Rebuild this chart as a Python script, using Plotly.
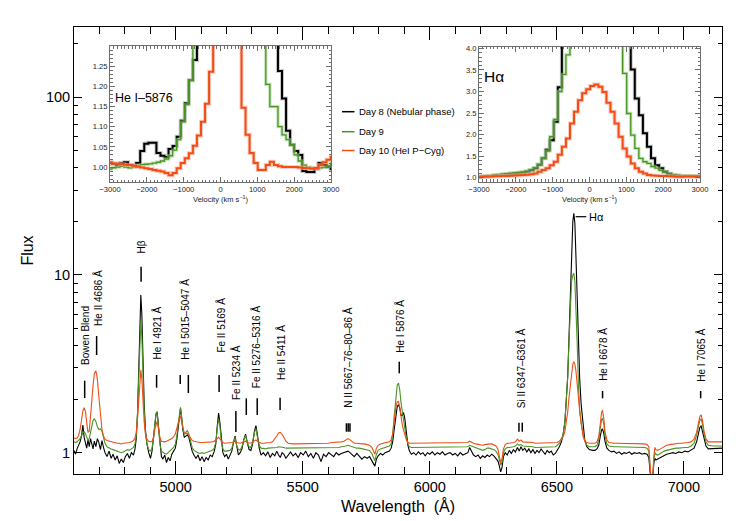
import plotly.graph_objects as go

# ---------------- main spectrum (wavelength in Angstrom, normalised flux) ----------------
wave = [4600, 4606, 4612, 4618, 4624, 4630, 4635, 4640, 4645, 4650, 4655, 4660, 4665, 4670, 4675, 4680, 4686, 4692, 4698, 4704, 4710, 4716, 4722, 4730,
        4738, 4746, 4754, 4762, 4770, 4778, 4786, 4794, 4802, 4810, 4818, 4826, 4834, 4840, 4845, 4850, 4855, 4859, 4863, 4867, 4871, 4876, 4881, 4887, 4894, 4901,
        4907, 4913, 4918, 4923, 4927, 4932, 4938, 4944, 4950, 4957, 4964, 4971, 4978, 4985, 4992, 4999, 5005, 5010, 5015, 5019, 5023, 5028, 5034, 5040, 5046, 5052,
        5058, 5065, 5072, 5080, 5088, 5096, 5104, 5112, 5120, 5128, 5136, 5144, 5152, 5158, 5164, 5169, 5174, 5180, 5186, 5193, 5200, 5207, 5214, 5221, 5228, 5234,
        5240, 5247, 5254, 5261, 5268, 5275, 5282, 5289, 5296, 5303, 5310, 5316, 5322, 5329, 5336, 5345, 5354, 5363, 5372, 5381, 5390, 5398, 5405, 5412, 5419, 5426,
        5434, 5443, 5452, 5462, 5472, 5482, 5492, 5502, 5512, 5522, 5532, 5542, 5552, 5562, 5572, 5582, 5592, 5602, 5612, 5622, 5632, 5642, 5652, 5662, 5670, 5678,
        5686, 5694, 5703, 5713, 5723, 5733, 5743, 5753, 5763, 5772, 5779, 5784, 5790, 5797, 5806, 5815, 5824, 5833, 5841, 5848, 5854, 5860, 5866, 5872, 5877, 5882,
        5887, 5892, 5897, 5902, 5908, 5914, 5920, 5928, 5937, 5946, 5955, 5964, 5973, 5982, 5991, 6000, 6010, 6020, 6030, 6040, 6050, 6060, 6070, 6080, 6090, 6100,
        6110, 6120, 6130, 6140, 6150, 6157, 6164, 6172, 6181, 6190, 6199, 6208, 6217, 6226, 6235, 6244, 6252, 6260, 6268, 6274, 6279, 6284, 6290, 6297, 6305, 6313,
        6321, 6329, 6337, 6345, 6352, 6359, 6366, 6374, 6382, 6390, 6398, 6406, 6414, 6422, 6430, 6438, 6446, 6454, 6462, 6470, 6478, 6486, 6494, 6502, 6510, 6518,
        6525, 6532, 6538, 6543, 6548, 6553, 6558, 6563, 6567, 6571, 6575, 6580, 6585, 6590, 6596, 6603, 6610, 6618, 6628, 6640, 6650, 6658, 6665, 6671, 6676, 6680,
        6685, 6690, 6697, 6705, 6715, 6725, 6735, 6745, 6755, 6765, 6775, 6785, 6795, 6805, 6815, 6825, 6835, 6845, 6855, 6862, 6866, 6870, 6874, 6878, 6882, 6886,
        6890, 6896, 6903, 6912, 6922, 6932, 6944, 6956, 6968, 6980, 6992, 7004, 7016, 7028, 7040, 7050, 7057, 7063, 7068, 7073, 7079, 7087, 7096, 7106, 7116, 7126,
        7136, 7150]

flux_day8 = [1.03, 0.98, 1.05, 1.10, 1.15, 1.25, 1.43, 1.22, 1.15, 1.06, 1.18, 1.08, 1.20, 1.12, 1.05, 1.16, 1.08, 1.20, 1.14, 1.04, 1.17, 1.07, 1.00, 0.95,
             1.02, 0.93, 0.98, 0.91, 0.96, 0.87, 0.92, 0.88, 0.95, 0.99, 0.93, 1.00, 0.97, 1.05, 1.20, 1.65, 3.30, 5.60, 7.70, 6.00, 3.40, 1.90, 1.35, 1.12, 1.00, 0.93,
             1.02, 1.20, 1.45, 1.65, 1.70, 1.40, 1.08, 0.95, 0.92, 0.97, 0.88, 0.94, 0.90, 0.98, 1.02, 1.06, 1.20, 1.40, 1.65, 1.78, 1.60, 1.35, 1.22, 1.24, 1.26, 1.22,
             1.12, 1.02, 0.97, 0.93, 0.97, 0.90, 0.95, 0.89, 0.94, 0.91, 0.97, 0.95, 1.02, 1.12, 1.42, 1.67, 1.48, 1.15, 1.00, 0.95, 0.98, 0.92, 0.96, 1.02, 1.15, 1.24,
             1.10, 0.97, 1.00, 1.05, 1.18, 1.27, 1.14, 1.04, 1.03, 1.12, 1.32, 1.42, 1.25, 1.06, 0.97, 1.00, 0.96, 1.01, 0.94, 0.99, 0.96, 1.02, 0.97, 0.94, 1.00, 0.98,
             0.93, 0.97, 1.01, 0.96, 0.99, 0.94, 1.00, 0.97, 1.02, 0.95, 0.99, 0.93, 1.00, 0.97, 0.89, 0.98, 0.95, 1.00, 0.98, 0.95, 1.00, 0.97, 0.99, 1.00, 1.01, 1.02,
             1.00, 0.97, 0.95, 0.99, 0.96, 0.92, 0.95, 0.93, 0.95, 0.90, 0.85, 0.84, 0.92, 0.96, 0.99, 0.97, 1.00, 1.01, 1.02, 1.06, 1.15, 1.35, 1.62, 1.82, 1.86, 1.78,
             1.62, 1.62, 1.68, 1.55, 1.30, 1.10, 1.02, 0.98, 1.00, 0.97, 1.01, 0.98, 1.00, 0.96, 1.00, 0.98, 1.01, 0.97, 1.00, 0.98, 1.01, 0.97, 0.99, 1.00, 0.97, 0.99,
             0.96, 1.00, 0.97, 0.99, 1.00, 1.07, 1.03, 0.97, 0.95, 0.97, 0.93, 0.96, 0.94, 0.97, 0.95, 0.98, 0.96, 0.93, 0.90, 0.84, 0.78, 0.82, 0.95, 1.00, 0.97, 1.03,
             0.99, 1.04, 1.01, 1.07, 1.02, 1.08, 1.03, 1.06, 1.01, 1.05, 1.00, 1.04, 0.99, 1.03, 1.00, 1.05, 1.01, 0.98, 1.03, 1.00, 1.02, 0.97, 0.99, 1.03, 1.08, 1.15,
             1.27, 1.50, 1.95, 2.70, 4.50, 8.00, 14.0, 20.0, 22.2, 19.5, 13.0, 7.00, 4.00, 2.60, 1.85, 1.40, 1.18, 1.08, 1.04, 1.03, 1.03, 1.05, 1.10, 1.24, 1.34, 1.36,
             1.28, 1.15, 1.06, 1.03, 1.01, 1.02, 0.99, 1.01, 0.98, 1.00, 0.99, 1.01, 0.98, 1.00, 0.99, 1.00, 0.98, 0.99, 0.98, 0.94, 0.80, 0.70, 0.72, 0.74, 0.88, 0.93,
             0.91, 0.92, 0.93, 0.95, 0.96, 0.98, 0.99, 1.00, 0.99, 1.01, 1.00, 1.02, 1.01, 1.03, 1.06, 1.15, 1.28, 1.39, 1.41, 1.33, 1.20, 1.09, 1.05, 1.05, 1.06, 1.05,
             1.06, 1.06]

flux_day9 = [1.15, 1.14, 1.15, 1.17, 1.20, 1.25, 1.30, 1.31, 1.28, 1.22, 1.18, 1.20, 1.30, 1.42, 1.52, 1.55, 1.50, 1.40, 1.35, 1.36, 1.32, 1.22, 1.13, 1.08,
             1.06, 1.05, 1.04, 1.03, 1.02, 1.00, 1.00, 1.01, 1.02, 1.04, 1.03, 1.05, 1.07, 1.12, 1.25, 1.70, 2.90, 4.40, 5.46, 4.50, 2.80, 1.75, 1.30, 1.12, 1.04, 1.02,
             1.06, 1.20, 1.45, 1.66, 1.70, 1.42, 1.12, 1.02, 1.00, 0.99, 0.98, 1.00, 1.02, 1.04, 1.07, 1.12, 1.25, 1.45, 1.70, 1.80, 1.62, 1.38, 1.27, 1.30, 1.33, 1.27,
             1.15, 1.07, 1.03, 1.01, 1.00, 0.99, 1.00, 0.99, 1.00, 1.01, 1.02, 1.03, 1.06, 1.15, 1.38, 1.55, 1.42, 1.15, 1.05, 1.02, 1.02, 1.02, 1.03, 1.06, 1.15, 1.22,
             1.10, 1.04, 1.04, 1.08, 1.18, 1.25, 1.14, 1.08, 1.07, 1.14, 1.30, 1.37, 1.22, 1.10, 1.06, 1.05, 1.05, 1.06, 1.06, 1.06, 1.07, 1.07, 1.08, 1.08, 1.08, 1.07,
             1.06, 1.06, 1.06, 1.06, 1.06, 1.06, 1.06, 1.06, 1.06, 1.06, 1.06, 1.06, 1.07, 1.07, 1.07, 1.07, 1.07, 1.07, 1.07, 1.07, 1.07, 1.07, 1.08, 1.08, 1.09, 1.10,
             1.09, 1.08, 1.07, 1.06, 1.06, 1.05, 1.05, 1.04, 1.03, 0.99, 0.92, 0.90, 0.98, 1.03, 1.05, 1.06, 1.07, 1.08, 1.09, 1.12, 1.25, 1.60, 2.05, 2.40, 2.46, 2.25,
             1.90, 1.70, 1.55, 1.38, 1.20, 1.12, 1.08, 1.07, 1.07, 1.07, 1.07, 1.07, 1.07, 1.07, 1.07, 1.07, 1.07, 1.07, 1.07, 1.07, 1.07, 1.07, 1.07, 1.07, 1.07, 1.07,
             1.07, 1.07, 1.07, 1.07, 1.08, 1.10, 1.09, 1.07, 1.06, 1.05, 1.04, 1.03, 1.04, 1.06, 1.06, 1.05, 1.04, 1.02, 0.98, 0.91, 0.85, 0.88, 1.00, 1.05, 1.07, 1.07,
             1.07, 1.08, 1.09, 1.12, 1.10, 1.11, 1.09, 1.09, 1.08, 1.08, 1.08, 1.08, 1.07, 1.07, 1.07, 1.07, 1.07, 1.07, 1.07, 1.07, 1.07, 1.07, 1.08, 1.10, 1.13, 1.18,
             1.28, 1.50, 1.95, 2.70, 4.20, 6.80, 9.20, 10.0, 10.2, 9.20, 7.00, 4.20, 2.40, 1.75, 1.45, 1.28, 1.16, 1.10, 1.08, 1.08, 1.08, 1.10, 1.18, 1.38, 1.53, 1.56,
             1.44, 1.24, 1.12, 1.09, 1.08, 1.08, 1.08, 1.08, 1.07, 1.07, 1.07, 1.07, 1.07, 1.07, 1.07, 1.07, 1.07, 1.07, 1.06, 1.02, 0.85, 0.72, 0.73, 0.75, 0.92, 1.00,
             0.98, 0.97, 0.98, 1.00, 1.02, 1.03, 1.04, 1.05, 1.06, 1.06, 1.07, 1.07, 1.07, 1.09, 1.13, 1.25, 1.40, 1.52, 1.55, 1.45, 1.28, 1.15, 1.10, 1.09, 1.09, 1.09,
             1.09, 1.09]

flux_day10 = [1.21, 1.20, 1.21, 1.25, 1.35, 1.55, 1.72, 1.79, 1.70, 1.48, 1.30, 1.32, 1.55, 1.95, 2.40, 2.78, 2.89, 2.60, 2.05, 1.60, 1.35, 1.24, 1.19, 1.17,
              1.16, 1.15, 1.14, 1.14, 1.13, 1.13, 1.12, 1.13, 1.13, 1.13, 1.14, 1.15, 1.17, 1.21, 1.30, 1.55, 2.10, 2.65, 2.92, 2.60, 2.00, 1.50, 1.28, 1.19, 1.16, 1.15,
              1.16, 1.22, 1.35, 1.45, 1.50, 1.38, 1.22, 1.16, 1.15, 1.15, 1.16, 1.17, 1.18, 1.20, 1.23, 1.28, 1.38, 1.48, 1.56, 1.60, 1.52, 1.38, 1.29, 1.28, 1.28, 1.25,
              1.20, 1.17, 1.16, 1.15, 1.15, 1.14, 1.14, 1.14, 1.14, 1.15, 1.15, 1.15, 1.16, 1.18, 1.21, 1.22, 1.20, 1.16, 1.14, 1.13, 1.13, 1.13, 1.13, 1.14, 1.15, 1.16,
              1.14, 1.13, 1.13, 1.14, 1.15, 1.16, 1.14, 1.13, 1.13, 1.15, 1.17, 1.18, 1.16, 1.14, 1.13, 1.13, 1.13, 1.13, 1.14, 1.15, 1.19, 1.24, 1.29, 1.30, 1.27, 1.21,
              1.16, 1.13, 1.12, 1.12, 1.12, 1.12, 1.12, 1.12, 1.12, 1.12, 1.12, 1.12, 1.13, 1.13, 1.13, 1.13, 1.13, 1.13, 1.14, 1.14, 1.14, 1.14, 1.15, 1.16, 1.18, 1.20,
              1.18, 1.15, 1.13, 1.13, 1.12, 1.12, 1.12, 1.11, 1.10, 1.07, 1.00, 0.98, 1.06, 1.10, 1.12, 1.13, 1.13, 1.14, 1.15, 1.18, 1.28, 1.50, 1.78, 1.93, 1.94, 1.80,
              1.58, 1.43, 1.34, 1.26, 1.18, 1.15, 1.13, 1.13, 1.13, 1.13, 1.13, 1.13, 1.13, 1.13, 1.13, 1.13, 1.13, 1.13, 1.13, 1.13, 1.13, 1.13, 1.13, 1.13, 1.13, 1.13,
              1.13, 1.13, 1.13, 1.13, 1.14, 1.16, 1.14, 1.13, 1.12, 1.11, 1.10, 1.10, 1.11, 1.12, 1.12, 1.12, 1.11, 1.09, 1.05, 0.97, 0.88, 0.92, 1.05, 1.11, 1.13, 1.13,
              1.13, 1.14, 1.15, 1.19, 1.16, 1.18, 1.15, 1.15, 1.14, 1.14, 1.14, 1.14, 1.13, 1.13, 1.13, 1.13, 1.13, 1.13, 1.13, 1.13, 1.13, 1.13, 1.13, 1.14, 1.16, 1.19,
              1.23, 1.32, 1.48, 1.70, 2.05, 2.45, 2.85, 3.15, 3.25, 3.15, 2.90, 2.50, 2.05, 1.70, 1.42, 1.24, 1.16, 1.14, 1.13, 1.13, 1.13, 1.15, 1.23, 1.45, 1.68, 1.73,
              1.55, 1.30, 1.18, 1.14, 1.13, 1.13, 1.13, 1.13, 1.13, 1.13, 1.12, 1.12, 1.12, 1.12, 1.12, 1.12, 1.12, 1.12, 1.11, 1.08, 0.90, 0.74, 0.75, 0.76, 0.96, 1.07,
              1.04, 1.03, 1.04, 1.06, 1.08, 1.10, 1.11, 1.12, 1.12, 1.13, 1.13, 1.13, 1.14, 1.15, 1.19, 1.30, 1.47, 1.60, 1.63, 1.52, 1.33, 1.19, 1.15, 1.15, 1.15, 1.15,
              1.15, 1.15]

# ---------------- inset profiles (velocity bins in km/s) ----------------
velocity = [-3060, -2950, -2840, -2730, -2620, -2510, -2400, -2290, -2180, -2070,
            -1960, -1850, -1740, -1630, -1520, -1410, -1300, -1190, -1080, -970,
            -860, -750, -640, -530, -420, -310, -200, -90, 20, 130,
            240, 350, 460, 570, 680, 790, 900, 1010, 1120, 1230,
            1340, 1450, 1560, 1670, 1780, 1890, 2000, 2110, 2220, 2330,
            2440, 2550, 2660, 2770, 2880, 2990, 3100]

hei_day8 = [1.012, 1.008, 1.005, 1.010, 1.012, 1.005, 1.003, 1.010, 1.040, 1.058,
            1.060, 1.060, 1.035, 1.028, 1.025, 1.045, 1.052, 1.075, 1.115, 1.158,
            1.215, 1.265, 1.40, 1.60, 1.80, 2.00, 2.10, 2.20, 2.20, 2.10,
            2.00, 1.90, 1.80, 1.75, 1.70, 1.70, 1.65, 1.60, 1.55, 1.50,
            1.45, 1.35, 1.238, 1.17, 1.09, 1.055, 1.040, 1.030, 0.990, 0.988,
            0.988, 0.995, 1.010, 1.005, 1.000, 0.995, 0.995]
hei_day9 = [0.995, 0.998, 1.000, 1.002, 1.000, 0.998, 1.000, 1.004, 1.006, 1.007,
            1.008, 1.010, 1.012, 1.015, 1.020, 1.028, 1.042, 1.068, 1.112, 1.155,
            1.215, 1.350, 1.55, 1.85, 2.10, 2.30, 2.45, 2.46, 2.40, 2.20,
            2.00, 1.80, 1.65, 1.55, 1.50, 1.45, 1.42, 1.38, 1.34, 1.205,
            1.150, 1.150, 1.100, 1.080, 1.068, 1.055, 1.030, 1.015, 1.005, 1.000,
            0.998, 0.997, 0.998, 1.000, 1.003, 1.010, 1.010]
hei_day10 = [1.010, 1.009, 1.008, 1.007, 1.006, 1.005, 1.003, 1.001, 0.999, 0.997,
             0.995, 0.993, 0.991, 0.989, 0.985, 0.980, 0.985, 0.997, 1.010, 1.022,
             1.034, 1.053, 1.078, 1.112, 1.157, 1.236, 1.40, 1.60, 1.85, 1.92,
             1.80, 1.55, 1.35, 1.147, 1.080, 1.035, 1.010, 0.993, 0.993, 1.005,
             1.013, 1.005, 1.002, 1.000, 1.000, 1.000, 1.000, 0.999, 0.998, 0.997,
             0.996, 0.998, 1.005, 1.012, 1.018, 1.025, 1.025]

ha_day8 = [1.01, 1.02, 1.03, 1.04, 1.05, 1.06, 1.07, 1.08, 1.09, 1.10,
           1.11, 1.12, 1.14, 1.17, 1.22, 1.30, 1.45, 1.65, 1.87, 2.30,
           3.10, 4.60, 7.0, 10.0, 13.0, 16.0, 19.0, 21.0, 22.0, 22.0,
           21.0, 19.0, 16.0, 13.0, 10.0, 7.0, 5.5, 4.5, 3.51, 2.84,
           2.45, 2.03, 1.72, 1.45, 1.29, 1.22, 1.14, 1.09, 1.06, 1.05,
           1.04, 1.04, 1.04, 1.035, 1.035, 1.03, 1.03]
ha_day9 = [1.02, 1.03, 1.04, 1.05, 1.06, 1.07, 1.08, 1.09, 1.10, 1.11,
           1.12, 1.13, 1.15, 1.18, 1.23, 1.31, 1.45, 1.62, 1.95, 2.35,
           3.00, 3.40, 3.85, 5.0, 6.5, 8.0, 9.2, 10.0, 10.2, 10.0,
           9.0, 7.5, 6.0, 5.0, 4.5, 4.2, 3.42, 2.49, 1.99, 1.68,
           1.45, 1.37, 1.33, 1.26, 1.22, 1.17, 1.13, 1.09, 1.07, 1.05,
           1.05, 1.04, 1.04, 1.04, 1.04, 1.035, 1.035]
ha_day10 = [1.02, 1.025, 1.03, 1.03, 1.035, 1.035, 1.04, 1.04, 1.045, 1.05,
            1.055, 1.06, 1.07, 1.08, 1.10, 1.14, 1.18, 1.22, 1.29, 1.37,
            1.53, 1.72, 1.91, 2.26, 2.53, 2.80, 2.96, 3.05, 3.13, 3.165,
            3.11, 2.99, 2.74, 2.53, 2.26, 1.95, 1.68, 1.49, 1.33, 1.22,
            1.14, 1.10, 1.06, 1.05, 1.045, 1.04, 1.04, 1.035, 1.03, 1.02,
            1.02, 1.025, 1.03, 1.03, 1.03, 1.03, 1.03]

series_names = ["Day 8 (Nebular phase)", "Day 9", "Day 10 (HeI P\u2212Cyg)"]

# line identifications: label text and label position (wavelength)
line_labels = ["Bowen Blend", "He II 4686 \u00c5", "H\u03b2", "He I 4921 \u00c5", "He I 5015\u20135047 \u00c5",
               "Fe II 5169 \u00c5", "Fe II 5234 \u00c5", "Fe II 5276\u20135316 \u00c5", "He II 5411 \u00c5",
               "N II 5667\u201376\u201380\u201386 \u00c5", "He I 5876 \u00c5", "Si II 6347\u20136361 \u00c5",
               "He I 6678 \u00c5", "He I 7065 \u00c5"]
line_label_wave = [4645, 4694, 4864, 4928, 5039, 5175, 5237, 5315, 5414, 5677, 5880, 6360, 6682, 7067]
mark_wave = [4642, 4689, 4864, 4925, 5018, 5050, 5171, 5237, 5278, 5321, 5411, 5672, 5679, 5686,
             5880, 6351, 6364, 6680, 7066]

# ---------------- layout geometry (pixels) ----------------
W, H = 736, 521
L, R, T, B = 74, 722, 27, 474


def xp(px):
    return (px - L) / (R - L)


def yp(py):
    return (B - py) / (B - T)


label_bottom_px = [367, 328, 256, 361.7, 361.7, 355, 401.7, 390, 381.7, 410, 355, 410, 383.3, 383.3]
mark_px = [(380.7, 398), (336, 355), (266.7, 281.7), (375, 387.7), (375, 384), (375, 393), (375, 392),
           (411, 432), (398.3, 415), (398.3, 415), (397.7, 410), (423.3, 431.7), (423.3, 431.7),
           (423.3, 431.7), (361.7, 373.3), (422.7, 431.7), (422.7, 431.7), (391, 398.3), (391, 398.3)]

colors = ["#000000", "#4b9424", "#f04e14"]
halo = ["rgba(140,140,140,0.45)", "rgba(150,205,130,0.55)", "rgba(250,170,150,0.6)"]
FONT = "Liberation Sans, Arial, Helvetica, sans-serif"

fig = go.Figure()

# main spectra
for f, c, n in zip([flux_day8, flux_day9, flux_day10], colors, series_names):
    fig.add_trace(go.Scatter(x=wave, y=f, mode="lines", name=n, showlegend=False,
                             line=dict(color=c, width=1.1)))

# insets (step profiles with soft halo)
inset_widths = [2.0, 1.3, 2.0]
for (prof, xa, ya) in [([hei_day8, hei_day9, hei_day10], "x2", "y2"),
                       ([ha_day8, ha_day9, ha_day10], "x3", "y3")]:
    for p, c, h, w in zip(prof, colors, halo, inset_widths):
        fig.add_trace(go.Scatter(x=velocity, y=p, mode="lines", xaxis=xa, yaxis=ya, showlegend=False,
                                 line=dict(color=h, width=w + 2, shape="hv"), hoverinfo="skip"))
        fig.add_trace(go.Scatter(x=velocity, y=p, mode="lines", xaxis=xa, yaxis=ya, showlegend=False,
                                 line=dict(color=c, width=w, shape="hv")))

shapes = []
annotations = []

# identification tick marks
for wv, (p0, p1) in zip(mark_wave, mark_px):
    shapes.append(dict(type="line", xref="x", yref="paper", x0=wv, x1=wv, y0=yp(p0), y1=yp(p1),
                       line=dict(color="black", width=1.5)))
# H-alpha horizontal mark
shapes.append(dict(type="line", xref="x", yref="paper", x0=6574, x1=6616, y0=yp(216.7), y1=yp(216.7),
                   line=dict(color="black", width=1.2)))
annotations.append(dict(text="H\u03b1", xref="x", yref="paper", x=6618, y=yp(216.7), xanchor="left",
                        yanchor="middle", showarrow=False, font=dict(size=11, color="black", family=FONT)))

for txt, wv, pb in zip(line_labels, line_label_wave, label_bottom_px):
    annotations.append(dict(text=txt, xref="x", yref="paper", x=wv, y=yp(pb), textangle=-90,
                            xanchor="center", yanchor="bottom", showarrow=False,
                            font=dict(size=10, color="black", family=FONT)))

# manual legend
leg_y = [111.7, 131.7, 150.5]
for n, c, ly in zip(series_names, colors, leg_y):
    shapes.append(dict(type="line", xref="paper", yref="paper", x0=xp(342), x1=xp(354.5), y0=yp(ly), y1=yp(ly),
                       line=dict(color=c, width=1.5)))
    annotations.append(dict(text=n, xref="paper", yref="paper", x=xp(356.5), y=yp(ly), xanchor="left",
                            yanchor="middle", showarrow=False, font=dict(size=9.5, color="black", family=FONT)))

# inset labels
annotations.append(dict(text="He I\u20135876", xref="paper", yref="paper", x=xp(113), y=yp(98.5),
                        xanchor="left", yanchor="middle", showarrow=False,
                        font=dict(size=12.5, color="black", family=FONT)))
annotations.append(dict(text="H\u03b1", xref="paper", yref="paper", x=xp(482), y=yp(76.5),
                        xanchor="left", yanchor="middle", showarrow=False,
                        font=dict(size=15.5, color="black", family=FONT)))

inset_axis = dict(showline=True, linecolor="#6e6e6e", linewidth=1, mirror="ticks", ticks="inside",
                  tickcolor="#6e6e6e", showgrid=False, zeroline=False, automargin=False,
                  tickfont=dict(size=7.6, color="#222222", family=FONT))

vel_ticks = [-3000, -2000, -1000, 0, 1000, 2000, 3000]

fig.update_layout(
    width=W, height=H,
    margin=dict(l=L, r=W - R, t=T, b=H - B, pad=0, autoexpand=False),
    paper_bgcolor="white", plot_bgcolor="white",
    font=dict(family=FONT, color="black"),
    xaxis=dict(range=[4600, 7150], tick0=5000, dtick=500, ticks="inside", ticklen=13, tickwidth=1,
               tickcolor="black", minor=dict(tick0=5000, dtick=100, ticks="inside", ticklen=7, tickcolor="black"),
               showline=True, linecolor="black", linewidth=1, mirror="ticks", showgrid=False, zeroline=False,
               automargin=False,
               tickfont=dict(size=14.5, family=FONT, color="black"),
               title=dict(text="Wavelength\u00a0 (\u00c5)", font=dict(size=16, family=FONT, color="black"), standoff=6)),
    yaxis=dict(type="log", range=[-0.12, 2.394], tickvals=[1, 10, 100], ticktext=["1", "10", "100"],
               ticks="inside", ticklen=8, tickcolor="black",
               minor=dict(tickvals=[2, 3, 4, 5, 6, 7, 8, 9, 20, 30, 40, 50, 60, 70, 80, 90, 200],
                          ticks="inside", ticklen=4, tickcolor="black"),
               showline=True, linecolor="black", linewidth=1, mirror="ticks", showgrid=False, zeroline=False,
               automargin=False,
               tickfont=dict(size=14.5, family=FONT, color="black"),
               title=dict(text="Flux", font=dict(size=16, family=FONT, color="black"), standoff=8)),
    xaxis2=dict(inset_axis, domain=[xp(110), xp(331)], anchor="y2", range=[-3000, 3000], tickvals=vel_ticks,
                ticklen=5, minor=dict(tick0=0, dtick=100, ticks="inside", ticklen=2.5, tickcolor="#6e6e6e"),
                title=dict(text="Velocity (km s<sup>\u22121</sup>)", font=dict(size=7.5, family=FONT, color="#222222"),
                           standoff=1)),
    yaxis2=dict(inset_axis, domain=[yp(182), yp(46)], anchor="x2", range=[0.963, 1.30],
                tickvals=[1.00, 1.05, 1.10, 1.15, 1.20, 1.25], tickformat=".2f", ticklen=5,
                minor=dict(tick0=1.0, dtick=0.01, ticks="inside", ticklen=2.5, tickcolor="#6e6e6e")),
    xaxis3=dict(inset_axis, domain=[xp(479), xp(700)], anchor="y3", range=[-3000, 3000], tickvals=vel_ticks,
                ticklen=5, minor=dict(tick0=0, dtick=100, ticks="inside", ticklen=2.5, tickcolor="#6e6e6e"),
                title=dict(text="Velocity (km s<sup>\u22121</sup>)", font=dict(size=7.5, family=FONT, color="#222222"),
                           standoff=1)),
    yaxis3=dict(inset_axis, domain=[yp(181.7), yp(46.7)], anchor="x3", range=[0.907, 4.04],
                tickvals=[1.0, 1.5, 2.0, 2.5, 3.0, 3.5, 4.0], tickformat=".1f", ticklen=5,
                minor=dict(tick0=1.0, dtick=0.1, ticks="inside", ticklen=2.5, tickcolor="#6e6e6e")),
    shapes=shapes,
    annotations=annotations,
    showlegend=False,
)

fig.write_html("out.html", config={"displayModeBar": False},
               post_script="document.body.style.margin='0';document.body.style.overflow='hidden';")
